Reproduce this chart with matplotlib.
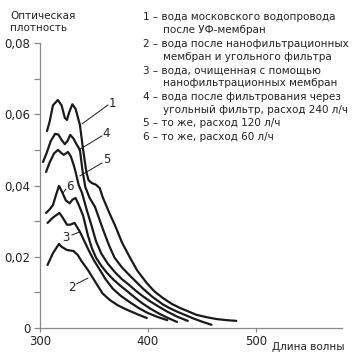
import matplotlib
matplotlib.use("Agg")
import matplotlib.pyplot as plt

# Data (wavelength, nm ; optical density)
x1 = [306.5, 309, 312, 316.5, 320, 323, 325, 327, 330, 333, 337, 340, 343, 345, 348, 352, 355.5, 358,
      364, 370, 376, 383, 390, 399, 406, 414, 422, 430, 445, 455, 464, 473, 482]
y1 = [0.0553, 0.058, 0.0625, 0.064, 0.0625, 0.0590, 0.0584, 0.0605, 0.0628, 0.0615, 0.057, 0.050, 0.0438, 0.0415, 0.0407, 0.0402, 0.0392, 0.0368,
      0.0325, 0.0285, 0.0240, 0.0200, 0.0162, 0.0126, 0.0103, 0.0084, 0.0068, 0.0056, 0.0037, 0.0030, 0.0025, 0.0022, 0.0020]

x2 = [307, 312, 317.6, 320, 325, 331, 335, 338, 344.4, 352, 358, 365, 372, 380, 390, 399]
y2 = [0.0177, 0.021, 0.0236, 0.0228, 0.0219, 0.0216, 0.0205, 0.0190, 0.0163, 0.0126, 0.0097, 0.0078, 0.0064, 0.0052, 0.0039, 0.0028]

x3 = [307, 312, 318, 321, 325, 328, 332, 337, 345, 350, 355.5, 361, 367.6, 375, 383, 391, 400, 409, 418]
y3 = [0.0295, 0.031, 0.0323, 0.031, 0.0290, 0.0290, 0.0295, 0.0270, 0.0219, 0.0190, 0.0163, 0.0136, 0.0110, 0.0090, 0.0073, 0.0057, 0.0042, 0.0031, 0.0022]

x4 = [302.8, 306, 310, 314, 317, 320, 323, 325.5, 328, 331, 334, 337, 339.5, 342, 346, 351, 358, 364, 369,
      376, 383, 389, 395, 404, 414, 420, 427, 435, 442, 450, 459]
y4 = [0.0466, 0.049, 0.0525, 0.0545, 0.0543, 0.0528, 0.0516, 0.0525, 0.0542, 0.0532, 0.0515, 0.050, 0.044, 0.0396, 0.0365, 0.034, 0.028, 0.0232, 0.0198,
      0.0170, 0.0148, 0.0130, 0.0112, 0.0088, 0.0066, 0.0056, 0.0046, 0.0036, 0.0027, 0.0018, 0.0009]

x5 = [305.6, 309, 313, 316.7, 319.5, 322, 324, 326, 328.5, 331, 333, 336, 339, 343, 348, 352, 357,
      363, 370, 376, 383, 389, 395, 402, 410, 418, 427, 437]
y5 = [0.0438, 0.0465, 0.049, 0.050, 0.0492, 0.0486, 0.049, 0.0494, 0.0482, 0.046, 0.0438, 0.040, 0.0379, 0.0335, 0.0285, 0.0243, 0.0208,
      0.0180, 0.0155, 0.0137, 0.0120, 0.0104, 0.0090, 0.0075, 0.0060, 0.0046, 0.0032, 0.0020]

x6 = [305.6, 309, 312, 315, 317.6, 320, 324, 327.5, 330, 333, 336, 340, 344.4, 348, 352, 357, 362, 368, 374,
      383, 389, 395, 402, 410, 418, 427]
y6 = [0.0323, 0.0333, 0.0345, 0.0375, 0.0399, 0.0385, 0.0358, 0.0350, 0.036, 0.0365, 0.0345, 0.0315, 0.0260, 0.0225, 0.0197, 0.0174, 0.0155, 0.0136, 0.0120,
      0.0098, 0.0083, 0.0069, 0.0055, 0.0041, 0.0029, 0.0017]

curve_names = ["1", "2", "3", "4", "5", "6"]
# label position, leader start, leader end (data coords)
label_pos = {"1": (367.6, 0.0629), "2": (329.6, 0.0115), "3": (324, 0.0253),
             "4": (361, 0.0547), "5": (362, 0.0472), "6": (327.8, 0.0396)}
leaders = {"1": ((363, 0.0626), (339, 0.0573)), "2": ((334, 0.0124), (344.4, 0.0140)),
           "3": ((329.6, 0.0261), (337, 0.0270)), "4": ((357.4, 0.0539), (336, 0.0500)),
           "5": ((357.4, 0.0463), (337, 0.0427)), "6": ((324, 0.0390), (321.3, 0.0379))}

legend_lines = [
    ("1 – вода московского водопровода", "после УФ-мембран"),
    ("2 – вода после нанофильтрационных", "мембран и угольного фильтра"),
    ("3 – вода, очищенная с помощью", "нанофильтрационных мембран"),
    ("4 – вода после фильтрования через", "угольный фильтр, расход 240 л/ч"),
    ("5 – то же, расход 120 л/ч", None),
    ("6 – то же, расход 60 л/ч", None),
]

yticks = [0, 0.02, 0.04, 0.06, 0.08]
ytick_labels = ["0", "0,02", "0,04", "0,06", "0,08"]
yminor = [0.01, 0.03, 0.05, 0.07]
xticks = [300, 400, 500]
xtick_labels = ["300", "400", "500"]

plt.rcParams['font.family'] = ['DejaVu Sans']
TXT = "#222222"
W, H = 353, 355
fig = plt.figure(figsize=(W / 100, H / 100), dpi=100)
ax = fig.add_axes([40 / W, 1 - 328 / H, 302 / W, 285 / H])

for xs, ys in [(x1, y1), (x2, y2), (x3, y3), (x4, y4), (x5, y5), (x6, y6)]:
    ax.plot(xs, ys, color="#1a1a1a", lw=1.6, solid_capstyle="round", solid_joinstyle="round")

for n in curve_names:
    (a, b), (c, d) = leaders[n]
    ax.plot([a, c], [b, d], color="#1a1a1a", lw=0.7)
    ax.text(*label_pos[n], n, fontsize=8.5, ha="center", va="center", color=TXT)

ax.set_xlim(300, 580)
ax.set_ylim(0, 0.08)
for s in ["top", "right"]:
    ax.spines[s].set_visible(False)
for s in ["left", "bottom"]:
    ax.spines[s].set_color("#8a8a8a")
    ax.spines[s].set_linewidth(0.9)
ax.set_yticks(yticks)
ax.set_yticklabels(ytick_labels)
ax.set_yticks(yminor, minor=True)
ax.set_xticks(xticks)
ax.set_xticklabels(xtick_labels)
ax.tick_params(axis="both", which="both", color="#8a8a8a", width=0.9, labelsize=8.5, labelcolor=TXT)
ax.tick_params(axis="y", which="both", length=4, pad=3)
ax.tick_params(axis="x", which="both", length=3, pad=2)

fig.text(10 / W, 1 - 16 / H, "Оптическая", fontsize=7.5, va="center", ha="left", color=TXT)
fig.text(10 / W, 1 - 28 / H, "плотность", fontsize=7.5, va="center", ha="left", color=TXT)
fig.text(345 / W, 1 - 347 / H, "Длина волны", fontsize=7.5, va="center", ha="right", color=TXT)

ypix = 17
for first, second in legend_lines:
    fig.text(143 / W, 1 - ypix / H, first, fontsize=7.5, va="center", ha="left", color=TXT)
    ypix += 13.3
    if second:
        fig.text(163 / W, 1 - ypix / H, second, fontsize=7.5, va="center", ha="left", color=TXT)
        ypix += 13.3

fig.savefig("out.png", dpi=100)
